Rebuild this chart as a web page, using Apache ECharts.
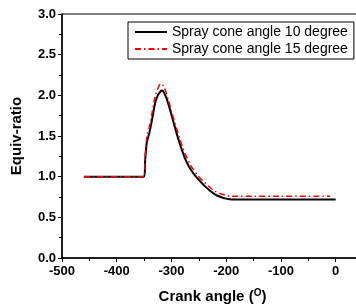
<!DOCTYPE html>
<html>
<head>
<meta charset="utf-8">
<script src="https://cdn.jsdelivr.net/npm/echarts@6/dist/echarts.min.js"></script>
<style>
  html, body { margin: 0; padding: 0; background: #fff; }
  #chart { width: 356px; height: 306px; }
</style>
</head>
<body>
<div id="chart"></div>
<script>
// crank angle samples (deg)
var angle10 = [-460, -350, -348, -345, -340, -335, -330, -325, -320, -318, -315, -310, -305, -300, -295, -290, -285, -280, -275, -270, -265, -260, -250, -240, -230, -220, -210, -200, -190, -180, -150, -100, -50, 0];
var ratio10 = [1.0, 1.0, 1.2, 1.42, 1.55, 1.72, 1.9, 2.0, 2.05, 2.06, 2.05, 1.98, 1.88, 1.76, 1.64, 1.52, 1.41, 1.31, 1.22, 1.15, 1.09, 1.04, 0.96, 0.89, 0.83, 0.78, 0.75, 0.73, 0.72, 0.72, 0.72, 0.72, 0.72, 0.72];

var angle15 = [-460, -350, -348, -345, -340, -335, -330, -325, -320, -318, -315, -310, -305, -300, -295, -290, -285, -280, -275, -270, -265, -260, -250, -240, -230, -220, -210, -200, -190, -180, -150, -100, -10];
var ratio15 = [1.0, 1.0, 1.25, 1.48, 1.62, 1.8, 1.98, 2.08, 2.14, 2.14, 2.12, 2.04, 1.93, 1.81, 1.69, 1.58, 1.47, 1.37, 1.28, 1.21, 1.14, 1.09, 1.0, 0.93, 0.87, 0.82, 0.79, 0.77, 0.76, 0.76, 0.76, 0.76, 0.76];

var seriesNames = ['Spray cone angle 10 degree', 'Spray cone angle 15 degree'];

function pairs(xs, ys) {
  var out = [];
  for (var i = 0; i < xs.length; i++) out.push([xs[i], ys[i]]);
  return out;
}

var font = 'Liberation Sans, Arial, sans-serif';
var chart = echarts.init(document.getElementById('chart'));
chart.setOption({
  animation: false,
  grid: {
    left: 62, top: 14, height: 244, width: 301,
    outerBoundsMode: 'none',
    containLabel: false,
    show: true, borderColor: '#000', borderWidth: 1
  },
  legend: {
    orient: 'vertical',
    left: 128, top: 22,
    padding: [3, 6, 3, 6],
    itemGap: 3,
    itemWidth: 32, itemHeight: 12,
    borderColor: '#000', borderWidth: 1,
    itemStyle: { opacity: 0 },
    textStyle: { fontFamily: font, fontSize: 14, color: '#000' },
    data: seriesNames
  },
  xAxis: {
    type: 'value', min: -500, max: 50, interval: 100,
    name: 'Crank angle ({sup|O})',
    nameLocation: 'middle', nameGap: 30,
    nameTextStyle: {
      fontFamily: font, fontSize: 15, fontWeight: 'bold', color: '#000',
      rich: { sup: { fontFamily: font, fontSize: 10, fontWeight: 'bold', verticalAlign: 'top', padding: [0, 0, 7, 0] } }
    },
    axisLine: { show: true, onZero: false, lineStyle: { color: '#000', width: 1.5 } },
    axisTick: { show: true, inside: false, length: 4, lineStyle: { color: '#000' } },
    minorTick: { show: true, splitNumber: 2, length: 3, lineStyle: { color: '#000' } },
    axisLabel: {
      fontFamily: font, fontSize: 13, fontWeight: 'bold', color: '#000', margin: 7,
      formatter: function (v) { return v > 0 ? '' : String(v); }
    },
    splitLine: { show: false }
  },
  yAxis: {
    type: 'value', min: 0, max: 3, interval: 0.5,
    name: 'Equiv-ratio',
    nameLocation: 'middle', nameGap: 38,
    nameTextStyle: { fontFamily: font, fontSize: 15, fontWeight: 'bold', color: '#000' },
    axisLine: { show: true, onZero: false, lineStyle: { color: '#000', width: 1.5 } },
    axisTick: { show: true, inside: false, length: 4, lineStyle: { color: '#000' } },
    minorTick: { show: true, splitNumber: 2, length: 3, lineStyle: { color: '#000' } },
    axisLabel: {
      fontFamily: font, fontSize: 13, fontWeight: 'bold', color: '#000', margin: 6,
      formatter: function (v) { return v.toFixed(1); }
    },
    splitLine: { show: false }
  },
  series: [
    {
      name: seriesNames[0], type: 'line', symbol: 'none', smooth: 0.3,
      lineStyle: { color: '#000', width: 2 },
      itemStyle: { color: '#000' },
      data: pairs(angle10, ratio10)
    },
    {
      name: seriesNames[1], type: 'line', symbol: 'none', smooth: 0.3,
      lineStyle: { color: '#ff0000', width: 1.5, type: [6, 3, 1.5, 3] },
      itemStyle: { color: '#ff0000' },
      data: pairs(angle15, ratio15)
    }
  ]
});
</script>
</body>
</html>
